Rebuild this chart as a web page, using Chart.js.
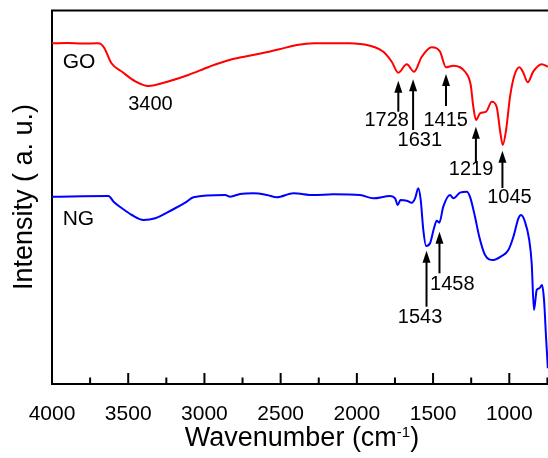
<!doctype html>
<html lang="en">
<head>
<meta charset="utf-8">
<title>FTIR spectra of GO and NG</title>
<style>
  * { margin: 0; padding: 0; }
  body { background: #fff; }
  .chartBox { width: 548px; height: 458px; }
</style>
</head>
<body>
<div class="chartBox"><canvas id="myChart"></canvas></div>
<script src="https://cdn.jsdelivr.net/npm/chart.js"></script>
<script>
// GO spectrum: wavenumber (cm-1) and intensity (a.u., offset trace)
const goWave = [4000, 3900, 3800, 3700, 3679, 3656, 3610, 3541, 3450, 3369, 3243, 3106, 2968, 2853, 2739,
  2624, 2509, 2394, 2280, 2050, 1979, 1892, 1826, 1771, 1728, 1673, 1625, 1574, 1509, 1454, 1415, 1367,
  1290, 1253, 1236, 1218, 1192, 1152, 1115, 1083, 1061, 1043, 1021, 995, 969, 934, 908, 879, 843, 788, 747];
const goInt = [340.2, 340.5, 339.9, 340.2, 339.5, 335.2, 320.2, 311.8, 301.8, 297.5, 301.8, 308.5, 316.8, 322.8, 326.8,
  330.2, 334.2, 338.5, 340.2, 340.2, 339.5, 336.8, 331.8, 321.8, 310.8, 319.2, 311.8, 326.8, 336.2, 331.8, 316.2, 317.8,
  311.8, 298.5, 276.8, 263.5, 270.2, 271.8, 281.8, 276.8, 253.5, 238.5, 253.5, 286.8, 306.8, 316.2, 310.8, 301.2, 311.8, 319.2, 316.8];

// NG spectrum
const ngWave = [4000, 3629, 3596, 3541, 3476, 3399, 3323, 3213, 3126, 3072, 2864, 2831, 2766, 2678, 2590, 2525,
  2416, 2285, 2154, 1979, 1892, 1782, 1749, 1732, 1714, 1673, 1640, 1618, 1597, 1581, 1564, 1546, 1520, 1494,
  1476, 1459, 1433, 1389, 1367, 1323, 1279, 1258, 1225, 1197, 1159, 1105, 1050, 1006, 973, 940, 923, 897, 869,
  853, 838, 820, 803, 785, 772, 759, 747];
const ngInt = [186.8, 187.5, 181.8, 175.2, 168.5, 163.5, 165.2, 173.5, 180.8, 186.2, 188.5, 186.8, 189.5, 190.2, 188.5, 186.2,
  190.2, 188.5, 189.2, 188.5, 185.2, 187.5, 185.2, 178.5, 183.5, 182.8, 180.8, 185.2, 195.2, 183.5, 153.5, 137.5, 140.2, 155.2,
  162.8, 160.8, 176.8, 188.5, 185.2, 190.8, 191.8, 186.8, 166.8, 146.8, 128.5, 123.5, 127.5, 133.5, 146.8, 165.2, 168.5, 161.8, 143.5,
  120.2, 73.5, 93.5, 95.2, 98.5, 83.5, 46.8, 15.2];

// axis range and ticks
const waveMin = 746;
const waveMax = 4000;
const intMax = 373;
const xTicks = [750, 1000, 1250, 1500, 1750, 2000, 2250, 2500, 2750, 3000, 3250, 3500, 3750, 4000];
const labelStep = 500;

// marked peaks: arrow tip / tail heights and label anchor
const peakWave = [1728, 1631, 1415, 1219, 1045, 1543, 1458];
const peakTip = [302.8, 304.2, 309.5, 256.8, 232.8, 132.8, 151.8];
const peakTail = [271.8, 253.5, 277.5, 220.5, 195.5, 76.8, 110.2];
const peakLabelWave = [1804, 1587, 1417, 1251, 999, 1585, 1374];
const peakLabelInt = [263, 243.5, 263, 214.5, 186, 66, 99.5];

// free text labels
const noteText = ['GO', 'NG', '3400'];
const noteWave = [3930, 3930, 3354];
const noteInt = [321, 164.5, 279.5];
const noteAlign = ['left', 'left', 'center'];

const FONT = "'Liberation Sans', Arial, sans-serif";

function toPoints(xs, ys) {
  return xs.map((v, i) => ({ x: v, y: ys[i] }));
}

const extras = {
  id: 'extras',
  afterDraw(chart) {
    const { ctx, chartArea: a, scales: { x, y } } = chart;
    ctx.save();
    ctx.strokeStyle = '#000';
    ctx.fillStyle = '#000';
    ctx.lineWidth = 2;

    // top frame
    ctx.beginPath();
    ctx.moveTo(a.left - 1, a.top);
    ctx.lineTo(a.right, a.top);
    ctx.stroke();

    // inward tick marks
    x.ticks.forEach(t => {
      const px = x.getPixelForValue(t.value);
      const len = t.value % labelStep === 0 ? 10.5 : 6;
      ctx.beginPath();
      ctx.moveTo(px, a.bottom);
      ctx.lineTo(px, a.bottom - len);
      ctx.stroke();
    });

    // peak arrows
    ctx.font = '20px ' + FONT;
    ctx.textBaseline = 'middle';
    ctx.textAlign = 'center';
    peakWave.forEach((w, i) => {
      const px = x.getPixelForValue(w);
      const tip = y.getPixelForValue(peakTip[i]);
      const tail = y.getPixelForValue(peakTail[i]);
      ctx.beginPath();
      ctx.moveTo(px, tip + 10);
      ctx.lineTo(px, tail);
      ctx.stroke();
      ctx.beginPath();
      ctx.moveTo(px, tip);
      ctx.lineTo(px - 4, tip + 12);
      ctx.lineTo(px + 4, tip + 12);
      ctx.closePath();
      ctx.fill();
      ctx.fillText(String(w), x.getPixelForValue(peakLabelWave[i]), y.getPixelForValue(peakLabelInt[i]));
    });

    // curve names and band label
    noteText.forEach((s, i) => {
      ctx.font = (i < 2 ? '21px ' : '20px ') + FONT;
      ctx.textAlign = noteAlign[i];
      ctx.fillText(s, x.getPixelForValue(noteWave[i]), y.getPixelForValue(noteInt[i]));
    });

    // x axis title with superscript
    const main = 'Wavenumber (cm';
    const sup = '-1';
    const close = ')';
    ctx.textBaseline = 'alphabetic';
    ctx.textAlign = 'left';
    ctx.font = '27px ' + FONT;
    const w1 = ctx.measureText(main).width;
    const w3 = ctx.measureText(close).width;
    ctx.font = '15px ' + FONT;
    const w2 = ctx.measureText(sup).width;
    const tx = 302 - (w1 + w2 + w3) / 2;
    ctx.font = '27px ' + FONT;
    ctx.fillText(main, tx, 446);
    ctx.font = '15px ' + FONT;
    ctx.fillText(sup, tx + w1, 437);
    ctx.font = '27px ' + FONT;
    ctx.fillText(close, tx + w1 + w2, 446);
    ctx.restore();
  }
};

const data = {
  datasets: [{
    label: 'GO',
    data: toPoints(goWave, goInt),
    borderColor: '#ff0000',
    borderWidth: 2,
    pointRadius: 0,
    cubicInterpolationMode: 'monotone'
  }, {
    label: 'NG',
    data: toPoints(ngWave, ngInt),
    borderColor: '#0000ff',
    borderWidth: 2,
    pointRadius: 0,
    cubicInterpolationMode: 'monotone'
  }]
};

const config = {
  type: 'line',
  data,
  options: {
    responsive: true,
    maintainAspectRatio: false,
    animation: false,
    layout: { padding: { top: 10.5, right: 0, left: 0, bottom: 0 } },
    plugins: { legend: { display: false }, tooltip: { enabled: false } },
    scales: {
      x: {
        type: 'linear',
        reverse: true,
        min: waveMin,
        max: waveMax,
        grid: { display: false },
        border: { display: true, color: '#000', width: 2 },
        afterBuildTicks: s => { s.ticks = xTicks.map(v => ({ value: v })); },
        ticks: {
          autoSkip: false,
          maxRotation: 0,
          padding: 10,
          color: '#000',
          font: { family: FONT, size: 21 },
          callback: v => (v % labelStep === 0 ? String(v) : '')
        },
        afterFit: s => { s.height = 74.5; s.paddingLeft = 0; s.paddingRight = 0; }
      },
      y: {
        min: 0,
        max: intMax,
        grid: { display: false },
        border: { display: true, color: '#000', width: 2 },
        ticks: { display: false },
        title: {
          display: true,
          text: 'Intensity ( a. u.)',
          color: '#000',
          font: { family: FONT, size: 27, weight: 'normal' },
          padding: { top: 8, bottom: 0 }
        },
        afterFit: s => { s.width = 52; }
      }
    }
  },
  plugins: [extras]
};

const myChart = new Chart(document.getElementById('myChart'), config);
</script>
</body>
</html>
